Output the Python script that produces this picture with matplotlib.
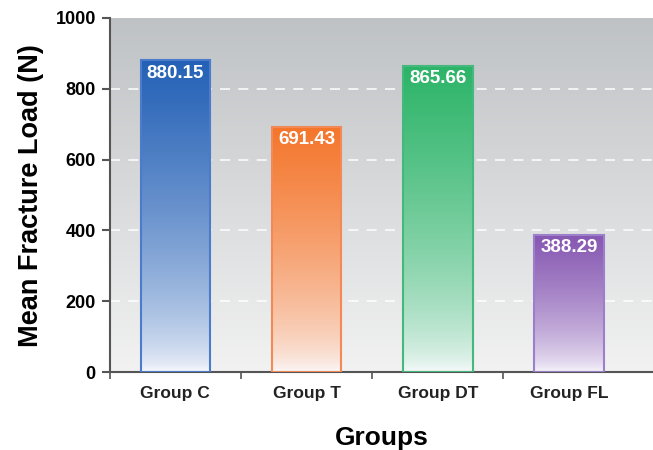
import numpy as np
import matplotlib.pyplot as plt
from matplotlib.colors import LinearSegmentedColormap

# Dados
grupos = ['Group C', 'Group T', 'Group DT', 'Group FL']
cargas = [880.15, 691.43, 865.66, 388.29]
cores_topo = ['#2461b6', '#f4762c', '#2cb468', '#8657b2']
cores_borda = ['#4a7ccb', '#f38a55', '#45b97d', '#9b7fcb']
y_ticks = [0, 200, 400, 600, 800, 1000]

plt.rcParams['font.family'] = ['Liberation Sans', 'DejaVu Sans']
plt.rcParams['font.weight'] = 'bold'

fig = plt.figure(figsize=(6.53, 4.5), dpi=100, facecolor='white')
ax = fig.add_axes([0.168, 0.173, 0.832, 0.787])

x = np.arange(len(grupos))

# Fundo em degradê cinza
fundo = LinearSegmentedColormap.from_list('fundo', ['#f2f2f2', '#bfc2c5'])
grad = np.linspace(0, 1, 256).reshape(-1, 1)
ax.imshow(grad, cmap=fundo, origin='lower', aspect='auto',
          extent=[-0.5, 3.64, 0, 1000], zorder=0)

# Linhas de grade tracejadas brancas
for v in y_ticks[1:-1]:
    ax.axhline(v, color='white', lw=1.2, ls=(0, (6, 5)), alpha=0.9, zorder=1)

# Barras com degradê
largura = 0.53
barras = ax.bar(x, cargas, width=largura, facecolor='none',
                edgecolor=cores_borda, linewidth=1.5, zorder=3)
for b, c, v in zip(barras, cores_topo, cargas):
    cmap = LinearSegmentedColormap.from_list('b', ['#fbfbfe', c])
    g = np.linspace(0, 1, 256) ** 0.6
    img = ax.imshow(g.reshape(-1, 1), cmap=cmap, origin='lower', aspect='auto',
                    extent=[b.get_x(), b.get_x() + largura, 0, v], zorder=2)
    img.set_clip_path(b)
    ax.annotate(f'{v:.2f}', (b.get_x() + largura / 2, v), xytext=(0, -3),
                textcoords='offset points', ha='center', va='top',
                color='white', fontsize=13.5, fontweight='bold', zorder=4)

ax.set_xlim(-0.5, 3.64)
ax.set_ylim(0, 1000)

# Eixos
for s in ['top', 'right']:
    ax.spines[s].set_visible(False)
for s in ['left', 'bottom']:
    ax.spines[s].set_color('#555555')
    ax.spines[s].set_linewidth(1.5)

ax.set_yticks(y_ticks)
ax.tick_params(axis='y', length=6, width=1.5, color='#555555', labelsize=13, pad=4)
ax.set_xticks(x)
ax.set_xticklabels(grupos)
ax.set_xticks([-0.5, 0.5, 1.5, 2.5], minor=True)
ax.tick_params(axis='x', which='major', length=0, labelsize=12.5, pad=10, labelcolor='#222222')
ax.tick_params(axis='x', which='minor', length=5, width=1.2, color='#555555')

ax.set_ylabel('Mean Fracture Load (N)', fontsize=19.5, fontweight='bold', labelpad=8)
ax.set_xlabel('Groups', fontsize=19, fontweight='bold', labelpad=18)

fig.savefig('out.png', dpi=100)
